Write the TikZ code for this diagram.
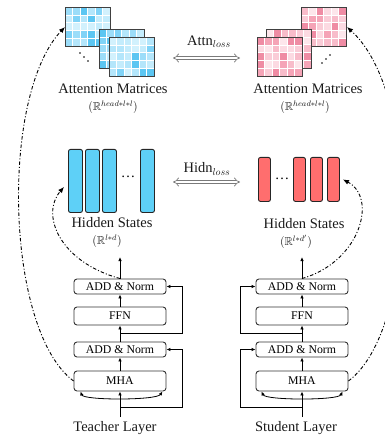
\documentclass[tikz,border=0pt]{standalone}
\usepackage{amssymb}
\usepackage{fontspec}
\setmainfont{Liberation Serif}
\usetikzlibrary{arrows.meta,calc}
\definecolor{framegray}{HTML}{404040}
\definecolor{boxgray}{HTML}{333333}
\definecolor{lossgray}{HTML}{7A7A7A}
\definecolor{tbar}{HTML}{5ED0F7}
\definecolor{sbar}{HTML}{FF6E6E}
\definecolor{tcell1}{HTML}{D2F1FD}
\definecolor{tcell2}{HTML}{C4ECFC}
\definecolor{tcell3}{HTML}{B4E6FB}
\definecolor{tcell4}{HTML}{9CDDF9}
\definecolor{tcell5}{HTML}{80D3F7}
\definecolor{tcell6}{HTML}{5CC6F2}
\definecolor{scell1}{HTML}{FDE6EB}
\definecolor{scell2}{HTML}{FCDAE2}
\definecolor{scell3}{HTML}{FACCD7}
\definecolor{scell4}{HTML}{F8BCCA}
\definecolor{scell5}{HTML}{F5A4B7}
\definecolor{scell6}{HTML}{EF8CA4}
\newcommand{\labelSize}{\fontsize{14.5}{17}\selectfont}
\newcommand{\attnMatrix}[4]{%
  \foreach \row in {0,...,4}{%
    \foreach \col in {0,...,5}{%
      \pgfmathrandominteger{\lvl}{1}{6}%
      \filldraw[#4\lvl, draw=white, line width=0.3pt] ({#2+\col*7.5},{#3+\row*7.8}) rectangle ++(7.5,7.8);
    }
  }
  \node[matframe, anchor=north west] (#1) at (#2,#3) {};
}

\begin{document}
\begin{tikzpicture}[x=1pt,y=-1pt,
  matframe/.style={draw=framegray, line width=1pt, minimum width=45pt, minimum height=39pt, inner sep=0pt},
  layerbox/.style={draw=boxgray, line width=0.9pt, rounded corners=3pt, minimum width=92pt, inner sep=0pt, font={\fontsize{11.8}{13}\selectfont}},
  tbarbox/.style={draw=black!85, fill=tbar, line width=0.9pt, rounded corners=2pt, minimum width=14pt, minimum height=63pt, inner sep=0pt, anchor=north west},
  sbarbox/.style={draw=black!85, fill=sbar, line width=0.9pt, rounded corners=2pt, minimum width=12pt, minimum height=44pt, inner sep=0pt, anchor=north west},
  lbl/.style={font=\labelSize, text=black!90, inner sep=0pt},
  dimlbl/.style={font={\fontsize{11.5}{13}\selectfont}, text=black!90, inner sep=0pt},
  flow/.style={line width=0.8pt, -{Latex[length=4pt,width=3.5pt]}},
  trace/.style={line width=0.9pt, dash pattern=on 3.5pt off 2pt on 1pt off 2pt, -{Latex[length=6pt,width=5pt]}},
  lossarrow/.style={draw=lossgray, line width=0.7pt, double=white, double distance=2.4pt, {Implies}-{Implies}}]
\useasboundingbox (0,0) rectangle (384,438);
\pgfmathsetseed{11}
\attnMatrix{tA1}{65}{7}{tcell}
\attnMatrix{tA2}{99}{29}{tcell}
\attnMatrix{tA3}{109}{37}{tcell}
\pgfmathsetseed{23}
\attnMatrix{sA1}{301}{7}{scell}
\attnMatrix{sA2}{266}{29}{scell}
\attnMatrix{sA3}{257}{37}{scell}
\fill (80,53) circle (0.9) (84,57) circle (0.9) (88,61) circle (0.9);
\fill (322,63) circle (0.9) (326,59) circle (0.9) (330,55) circle (0.9);
\node[lbl] (tAttLabel) at (113,89) {Attention Matrices};
\node[dimlbl] (tAttDim) at (113,107) {$(\mathbb{R}^{head*l*l})$};
\node[lbl] (sAttLabel) at (308,89) {Attention Matrices};
\node[dimlbl] (sAttDim) at (305,107) {$(\mathbb{R}^{head*l*l})$};
\node[lbl] (attnLoss) at (209,42) {Attn$_{loss}$};
\coordinate (attnL) at (173,58);
\coordinate (attnR) at (240,58);
\draw[lossarrow] (attnL) -- (attnR);
\node[tbarbox] (tH1) at (68,149) {};
\node[tbarbox] (tH2) at (85,149) {};
\node[tbarbox] (tH3) at (102,149) {};
\node[tbarbox] (tH4) at (140,149) {};
\node[font=\labelSize] (tHdots) at (128,177) {\dots};
\node[sbarbox] (sH1) at (258,157) {};
\node[sbarbox] (sH2) at (293,157) {};
\node[sbarbox] (sH3) at (310,157) {};
\node[sbarbox] (sH4) at (327,157) {};
\node[font=\labelSize] (sHdots) at (282,179) {\dots};
\node[lbl] (tHidLabel) at (112,223) {Hidden States};
\node[dimlbl] (tHidDim) at (107,241) {$(\mathbb{R}^{l*d})$};
\node[lbl] (sHidLabel) at (304,224) {Hidden States};
\node[dimlbl] (sHidDim) at (296,242) {$(\mathbb{R}^{l*d'})$};
\node[lbl] (hidnLoss) at (207,169) {Hidn$_{loss}$};
\coordinate (hidnL) at (173,182);
\coordinate (hidnR) at (240,182);
\draw[lossarrow] (hidnL) -- (hidnR);
\node[layerbox, minimum height=15pt] (tAN2) at (120,286.5) {ADD \& Norm};
\node[layerbox, minimum height=18pt] (tFFN) at (120,316) {FFN};
\node[layerbox, minimum height=15pt] (tAN1) at (120,349.5) {ADD \& Norm};
\node[layerbox, minimum height=20pt] (tMHA) at (120,381) {MHA};
\node[lbl] (tLayer) at (115,428) {Teacher Layer};
\coordinate (tIn) at (120,417);
\coordinate (tOut) at (120,257);
\draw[flow] (tIn) -- (tMHA);
\draw[flow] (tMHA) -- (tAN1);
\draw[flow] (tAN1) -- (tFFN);
\draw[flow] (tFFN) -- (tAN2);
\draw[flow] (tAN2) -- (tOut);
\draw[line width=0.8pt, {Latex[length=4pt,width=3.5pt]}-{Latex[length=4pt,width=3.5pt]}] ($(tMHA.south west)+(7,0)$) .. controls ($(tMHA.south west)+(10,9)$) and ($(tMHA.south east)+(-10,9)$) .. ($(tMHA.south east)+(-4,0)$);
\draw[flow] (120,407) -| (182,349.5) -- (tAN1.east);
\draw[flow] (120,333) -| (182,286.5) -- (tAN2.east);
\node[layerbox, minimum height=15pt] (sAN2) at (302,286.5) {ADD \& Norm};
\node[layerbox, minimum height=18pt] (sFFN) at (302,316) {FFN};
\node[layerbox, minimum height=15pt] (sAN1) at (302,349.5) {ADD \& Norm};
\node[layerbox, minimum height=20pt] (sMHA) at (302,381) {MHA};
\node[lbl] (sLayer) at (296,428) {Student Layer};
\coordinate (sIn) at (302,417);
\coordinate (sOut) at (302,257);
\draw[flow] (sIn) -- (sMHA);
\draw[flow] (sMHA) -- (sAN1);
\draw[flow] (sAN1) -- (sFFN);
\draw[flow] (sFFN) -- (sAN2);
\draw[flow] (sAN2) -- (sOut);
\draw[line width=0.8pt, {Latex[length=4pt,width=3.5pt]}-{Latex[length=4pt,width=3.5pt]}] ($(sMHA.south west)+(6,0)$) .. controls ($(sMHA.south west)+(10,9)$) and ($(sMHA.south east)+(-10,9)$) .. ($(sMHA.south east)+(-6,0)$);
\draw[flow] (302,407) -| (240,349.5) -- (sAN1.west);
\draw[flow] (302,333) -| (240,286.5) -- (sAN2.west);
\draw[trace] (tMHA.west) .. controls (5,330) and (0,95) .. (tA1.west);
\draw[trace] (sMHA.east) .. controls (417,330) and (422,95) .. (sA1.east);
\draw[trace] (tAN2.north) .. controls (60,262) and (40,215) .. ($(tH1.west)+(-4,6)$);
\draw[trace] (sAN2.north) .. controls (360,262) and (378,198) .. ($(sH4.east)+(3,0)$);
\end{tikzpicture}
\end{document}
